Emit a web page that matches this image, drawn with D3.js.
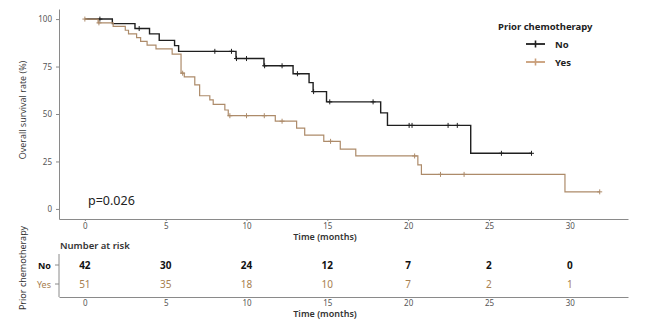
<!DOCTYPE html>
<html>
<head>
<meta charset="utf-8">
<script src="https://cdn.jsdelivr.net/npm/d3@7/dist/d3.min.js"></script>
<style>
  html, body { margin: 0; padding: 0; background: #fff; }
  svg { display: block; font-family: "Noto Sans", "Open Sans", sans-serif; }
</style>
</head>
<body>
<svg id="chart" width="658" height="324"></svg>
<script>
// Kaplan-Meier estimates: event times (months) and survival (%) right after each event
const groups = ["No", "Yes"];
const noEventTimes = [1.7, 3.1, 4.0, 4.6, 5.55, 5.8, 9.35, 11.08, 12.88, 13.87, 14.12, 14.95, 18.3, 18.72, 23.87];
const noSurvival   = [97.6, 95.0, 92.2, 88.8, 86.0, 83.0, 79.2, 75.4, 71.2, 66.5, 61.8, 56.4, 50.6, 44.0, 29.3];
const noCensorTimes = [0.93, 3.36, 8.04, 9.07, 9.38, 10.0, 11.12, 12.2, 13.15, 14.15, 15.15, 17.83, 20.06, 20.24, 22.47, 23.04, 25.77, 27.63];
const noLastTime = 27.63;

const yesEventTimes = [0.82, 1.75, 2.5, 2.7, 3.2, 3.45, 3.85, 4.4, 5.4, 5.95, 6.15, 6.8, 7.1, 7.73, 7.94, 8.66, 8.87, 11.78, 13.1, 13.6, 14.78, 15.8, 16.76, 20.6, 20.82, 29.7];
const yesSurvival   = [98.0, 96.1, 94.1, 92.2, 90.2, 88.2, 86.3, 84.3, 81.5, 71.5, 69.6, 65.3, 59.6, 57.4, 55.1, 52.1, 49.1, 46.2, 42.6, 38.9, 35.6, 31.5, 27.9, 23.2, 18.2, 9.0];
const yesCensorTimes = [0, 0.87, 6.05, 8.97, 10.0, 11.1, 12.2, 15.2, 20.4, 22.0, 23.46, 31.85];
const yesLastTime = 31.85;

// Number at risk table
const riskTimes = [0, 5, 10, 15, 20, 25, 30];
const riskNo  = [42, 30, 24, 12, 7, 2, 0];
const riskYes = [51, 35, 18, 10, 7, 2, 1];

const xTicks = [0, 5, 10, 15, 20, 25, 30];
const yTicks = [0, 25, 50, 75, 100];
const pValueText = "p=0.026";

const colors = { No: "#1f1f1f", Yes: "#ad8b6a" };
const legendColors = { No: "#1f1f1f", Yes: "#c99d78" };
const riskTextColors = { No: "#111111", Yes: "#a8804f" };

const svg = d3.select("#chart");

const x = d3.scaleLinear().domain([-1.6, 33.6]).range([59, 628]);
const y = d3.scaleLinear().domain([-5.3, 105.3]).range([219, 9]);

// ---- survival panel axes
const xAxis = svg.append("g").attr("transform", "translate(0,219)")
  .call(d3.axisBottom(x).tickValues(xTicks).tickSize(2).tickSizeOuter(0).tickPadding(2));
const yAxis = svg.append("g").attr("transform", "translate(59,0)")
  .call(d3.axisLeft(y).tickValues(yTicks).tickSize(3).tickSizeOuter(0).tickPadding(4));

function styleAxis(g) {
  g.select(".domain").attr("stroke", "#8a8a8a").attr("stroke-width", 1);
  g.selectAll(".tick line").attr("stroke", "#8a8a8a");
  g.selectAll(".tick text").attr("fill", "#555").style("font-size", "8px")
    .style("font-family", "'Noto Sans', sans-serif");
}
styleAxis(xAxis);
styleAxis(yAxis);

svg.append("text")
  .attr("x", 325).attr("y", 240)
  .attr("text-anchor", "middle")
  .style("font-size", "9px").style("font-weight", "600").attr("fill", "#333")
  .text("Time (months)");

svg.append("text")
  .attr("transform", "translate(26,110) rotate(-90)")
  .attr("text-anchor", "middle")
  .style("font-size", "9px").attr("fill", "#333")
  .style("font-family", "'Open Sans', sans-serif")
  .text("Overall survival rate (%)");

// ---- step curves
function stepPoints(times, surv, lastTime) {
  const pts = [[0, 100]];
  let s = 100;
  times.forEach((t, i) => { pts.push([t, s]); s = surv[i]; pts.push([t, s]); });
  pts.push([lastTime, s]);
  return pts;
}
function survivalAt(times, surv, t) {
  let s = 100;
  times.forEach((et, i) => { if (et <= t) s = surv[i]; });
  return s;
}

const line = d3.line().x(d => x(d[0])).y(d => y(d[1]));

const series = [
  { key: "No", times: noEventTimes, surv: noSurvival, censor: noCensorTimes, last: noLastTime, w: 1.4 },
  { key: "Yes", times: yesEventTimes, surv: yesSurvival, censor: yesCensorTimes, last: yesLastTime, w: 1.2 }
];

series.forEach(sr => {
  const g = svg.append("g");
  g.append("path")
    .datum(stepPoints(sr.times, sr.surv, sr.last))
    .attr("fill", "none")
    .attr("stroke", colors[sr.key])
    .attr("stroke-width", sr.w)
    .attr("d", line);
  g.selectAll("path.censor")
    .data(sr.censor)
    .join("path")
    .attr("class", "censor")
    .attr("stroke", colors[sr.key])
    .attr("stroke-width", 1)
    .attr("fill", "none")
    .attr("d", t => {
      const cx = x(t), cy = y(survivalAt(sr.times, sr.surv, t));
      return `M${cx - 2.5},${cy}H${cx + 2.5}M${cx},${cy - 2.5}V${cy + 2.5}`;
    });
});

// p-value
svg.append("text")
  .attr("x", 88).attr("y", 205)
  .style("font-size", "12.5px").attr("fill", "#222")
  .text(pValueText);

// ---- legend
const legend = svg.append("g");
legend.append("text")
  .attr("x", 498).attr("y", 30)
  .style("font-size", "9.5px").style("font-weight", "700").attr("fill", "#222")
  .text("Prior chemotherapy");
groups.forEach((k, i) => {
  const ly = 44 + i * 18;
  legend.append("line").attr("x1", 526).attr("x2", 545).attr("y1", ly).attr("y2", ly)
    .attr("stroke", legendColors[k]).attr("stroke-width", 1.8);
  legend.append("path")
    .attr("d", `M535.5,${ly - 3.5}V${ly + 3.5}`)
    .attr("stroke", legendColors[k]).attr("stroke-width", 1.6);
  legend.append("text")
    .attr("x", 555).attr("y", ly + 3.5)
    .style("font-size", "9.5px").style("font-weight", "700").attr("fill", "#222")
    .text(k);
});

// ---- risk table
const rowY = d3.scalePoint().domain(groups).range([265, 284]);
const riskAxisX = svg.append("g").attr("transform", "translate(0,297)")
  .call(d3.axisBottom(x).tickValues(xTicks).tickSize(0).tickSizeOuter(0).tickPadding(3));
styleAxis(riskAxisX);

svg.append("line").attr("x1", 59).attr("x2", 59).attr("y1", 254).attr("y2", 297)
  .attr("stroke", "#8a8a8a");
groups.forEach(k => {
  svg.append("line").attr("x1", 55).attr("x2", 59).attr("y1", rowY(k)).attr("y2", rowY(k))
    .attr("stroke", "#8a8a8a");
  svg.append("text")
    .attr("x", 51).attr("y", rowY(k) + 3.5)
    .attr("text-anchor", "end")
    .style("font-size", "9px")
    .style("font-weight", k === "No" ? "700" : "400")
    .attr("fill", riskTextColors[k])
    .text(k);
});

const riskRows = [
  { key: "No", values: riskNo },
  { key: "Yes", values: riskYes }
];
riskRows.forEach(r => {
  svg.append("g").selectAll("text")
    .data(riskTimes)
    .join("text")
    .attr("x", t => x(t))
    .attr("y", rowY(r.key) + 3.8)
    .attr("text-anchor", "middle")
    .style("font-size", "10px")
    .style("font-weight", r.key === "No" ? "700" : "400")
    .attr("fill", riskTextColors[r.key])
    .text((t, i) => r.values[i]);
});

svg.append("text")
  .attr("x", 60).attr("y", 249)
  .style("font-size", "9.5px").style("font-weight", "600").attr("fill", "#333")
  .text("Number at risk");

svg.append("text")
  .attr("x", 325).attr("y", 317)
  .attr("text-anchor", "middle")
  .style("font-size", "9px").style("font-weight", "600").attr("fill", "#333")
  .text("Time (months)");

svg.append("text")
  .attr("transform", "translate(26,268) rotate(-90)")
  .attr("text-anchor", "middle")
  .style("font-size", "9px").attr("fill", "#333")
  .text("Prior chemotherapy");
</script>
</body>
</html>
